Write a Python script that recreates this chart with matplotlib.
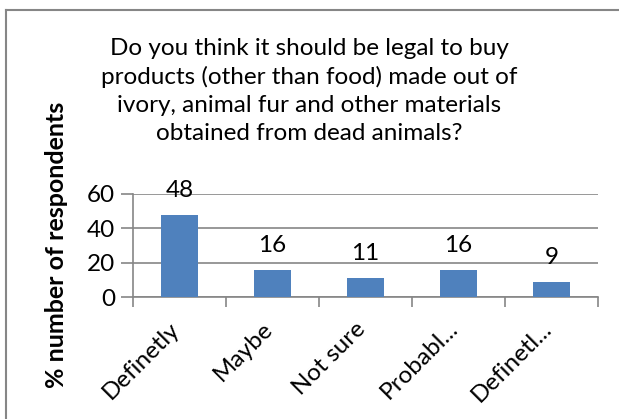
import matplotlib
import matplotlib.pyplot as plt
from matplotlib.lines import Line2D
from matplotlib.transforms import ScaledTranslation

matplotlib.use("Agg")

categories = ["Definetly", "Maybe", "Not sure", "Probabl...", "Definetl..."]
values = [48, 16, 11, 16, 9]
yticks = [0, 20, 40, 60]
title = ("Do you think it should be legal to buy\n"
         "products (other than food) made out of\n"
         "ivory, animal fur and other materials\n"
         "obtained from dead animals?")
ylabel = "% number of respondents"

plt.rcParams["font.family"] = ["Lato", "DejaVu Sans"]

W, H = 619, 419
fig = plt.figure(figsize=(W / 100, H / 100), dpi=100)
ax = fig.add_axes([133 / W, 1 - 297 / H, (598 - 133) / W, (297 - 194) / H])

grey = "#868686"
fs = 17.5
x = list(range(len(categories)))
ax.bar(x, values, width=0.39, color="#4F81BD", zorder=3)

for xi, v in zip(x, values):
    ax.annotate(str(v), (xi, v), xytext=(0, 10), textcoords="offset points",
                ha="center", va="bottom", fontsize=fs)

ax.set_xlim(-0.5, len(categories) - 0.5)
ax.set_ylim(0, 60)
ax.set_yticks(yticks)
ax.grid(axis="y", color=grey, linewidth=1.2, zorder=0)
ax.tick_params(axis="y", length=9, width=1.2, color=grey, pad=4, labelsize=fs)

ax.set_xticks(x)
ax.set_xticklabels(categories, rotation=45, ha="right", va="top", fontsize=fs)
ax.tick_params(axis="x", which="major", length=0, pad=15)
shift = ScaledTranslation(4 / 100, 0, fig.dpi_scale_trans)
for lbl in ax.get_xticklabels():
    lbl.set_transform(lbl.get_transform() + shift)
ax.set_xticks([i - 0.5 for i in range(len(categories) + 1)], minor=True)
ax.tick_params(axis="x", which="minor", length=7, width=1.2, color=grey)

for side in ["top", "right"]:
    ax.spines[side].set_visible(False)
for side in ["left", "bottom"]:
    ax.spines[side].set_color(grey)
    ax.spines[side].set_linewidth(1.2)

fig.text(309.5 / W, 1 - 38 / H, title, ha="center", va="top",
         fontsize=fs, linespacing=1.4)
fig.text(57 / W, 1 - 245 / H, ylabel, rotation=90, ha="center", va="center",
         fontsize=18, fontweight="bold")

# chart frame (only left and top edges visible)
fig.add_artist(Line2D([6 / W, 6 / W], [0, 1 - 10 / H], color=grey,
                      linewidth=1.5, transform=fig.transFigure))
fig.add_artist(Line2D([6 / W, 1], [1 - 10 / H, 1 - 10 / H], color=grey,
                      linewidth=1.5, transform=fig.transFigure))

fig.savefig("out.png", dpi=100)
